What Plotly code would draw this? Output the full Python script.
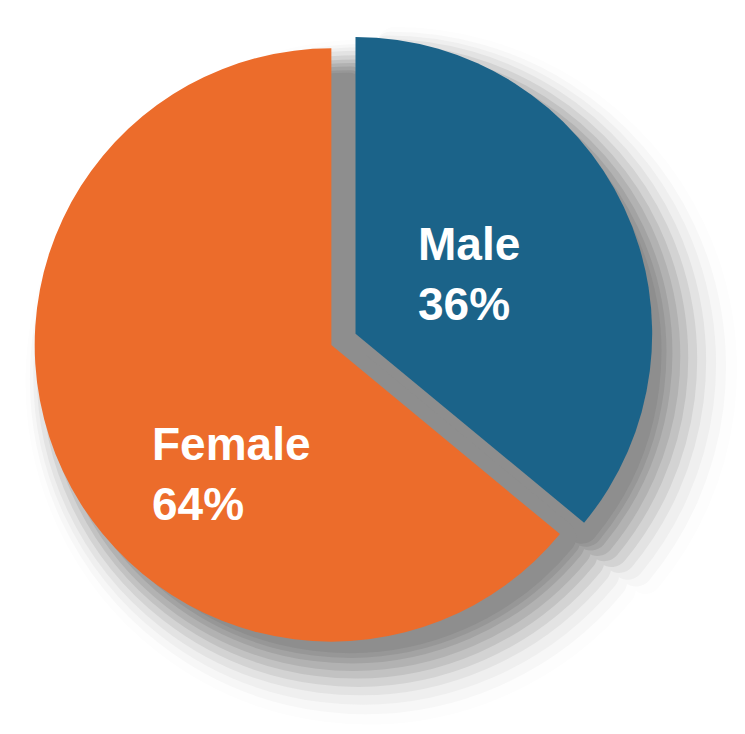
import plotly.graph_objects as go

labels = ['Male', 'Female']
values = [36, 64]
colors = ['#1b6389', '#ec6c2b']

W, H = 745, 734
BODY = 8  # default page margin shifts the whole figure
cx, cy, r = 331 - BODY, 345 - BODY, 297
pull = 0.09
gap_line = 34

def dom(cx, cy, half):
    return dict(x=[max(0, (cx - half) / W), min(1, (cx + half) / W)],
                y=[max(0, 1 - (cy + half) / H), min(1, 1 - (cy - half) / H)])

fig = go.Figure()

# fake blurred drop shadow: grey pies, large/light first, small/dark last
# (extra radius, offset down-right, colour)
half = r * (1 + pull)
shadow = [(48, 37, '#fdfdfd'), (40, 34, '#f7f7f7'), (33, 31, '#efefef'),
          (26, 28, '#e3e3e3'), (19, 26, '#d3d3d3'), (12, 24, '#c2c2c2'),
          (6, 22, '#b2b2b2'), (0, 20, '#a3a3a3'), (-5, 19, '#979797'),
          (-9, 18, '#8e8e8e')]
for grow, off, col in shadow:
    fig.add_trace(go.Pie(
        labels=labels, values=values, sort=False, direction='clockwise',
        rotation=0, pull=[pull, 0], textinfo='none', hoverinfo='skip',
        marker=dict(colors=[col] * 2, line=dict(width=gap_line, color=col)),
        domain=dom(cx + off, cy + off, half + grow - gap_line / 2),
        showlegend=False))

fig.add_trace(go.Pie(
    labels=labels, values=values, sort=False, direction='clockwise',
    rotation=0, pull=[pull, 0], textinfo='none', hoverinfo='skip',
    marker=dict(colors=colors, line=dict(width=0)),
    domain=dom(cx, cy, half), showlegend=False))

# label positions (pixels) for each slice
label_pos = {'Male': (416, 274), 'Female': (150, 474)}
for lab, val in zip(labels, values):
    px, py = label_pos[lab]
    fig.add_annotation(
        x=(px - BODY) / W, y=1 - (py - BODY) / H, xref='paper', yref='paper',
        xanchor='left', yanchor='middle', align='left', showarrow=False,
        text=f'<b>{lab}</b><br><b>{val}%</b>',
        font=dict(family='Liberation Sans, Arial', size=46, color='white'))

fig.update_layout(width=W, height=H, margin=dict(l=0, r=0, t=0, b=0),
                  paper_bgcolor='white', plot_bgcolor='white')

fig.write_html('out.html')
